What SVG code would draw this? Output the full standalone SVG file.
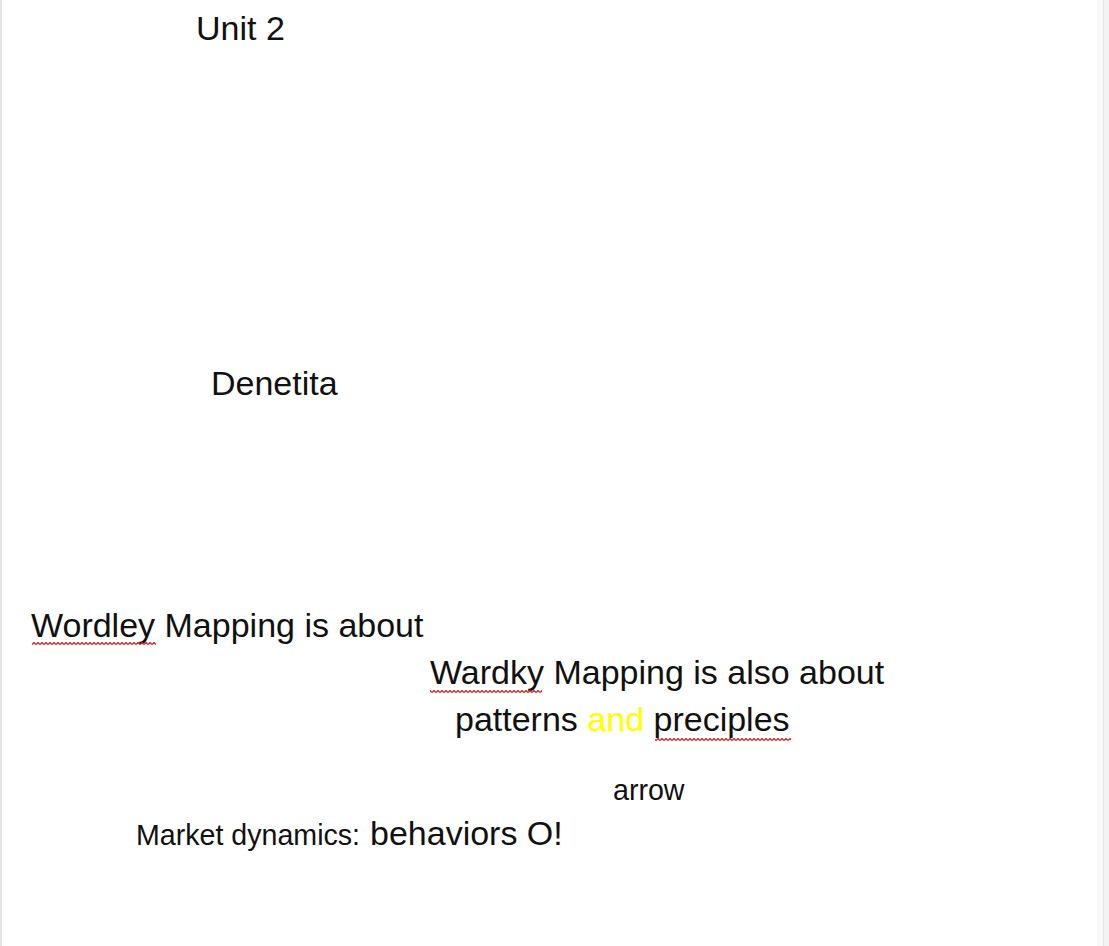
<svg xmlns="http://www.w3.org/2000/svg" width="1109" height="946" viewBox="0 0 1109 946">
<style>
.t{font-family:"Liberation Sans",Arial,sans-serif;fill:#111;}
.big{font-size:34px;}
.mid{font-size:28.6px;}
.sq{fill:url(#squiggle);}
</style>
<defs>
<pattern id="squiggle" x="0" y="0" width="4" height="3" patternUnits="userSpaceOnUse">
<path d="M0 2.5 L2 0.5 L4 2.5" fill="none" stroke="#dd1111" stroke-width="1.2"/>
</pattern>
</defs>
<rect x="0" y="0" width="1109" height="946" fill="#ffffff"/>
<rect x="0" y="0" width="2" height="946" fill="#e2e2e2"/>
<rect x="1097" y="0" width="6" height="946" fill="#f9f9f9"/>
<rect x="1103" y="0" width="1" height="946" fill="#e6e6e6"/>
<rect x="1104" y="0" width="5" height="946" fill="#f3f3f3"/>
<g id="unit2"><text class="t big" x="196" y="40">Unit 2</text></g>
<g id="denetita"><text class="t big" x="211" y="395">Denetita</text></g>
<g id="wordley"><text class="t big" x="31" y="637">Wordley Mapping is about</text>
<rect class="sq" x="32" y="642" width="124" height="3"/></g>
<g id="wardky"><text class="t big" x="430" y="684">Wardky Mapping is also about</text>
<rect class="sq" x="430" y="690" width="112" height="3"/></g>
<g id="patterns"><text class="t big" x="455" y="731">patterns <tspan fill="#ffff00">and</tspan> preciples</text>
<rect class="sq" x="655" y="738" width="136" height="3"/></g>
<g id="arrow"><text class="t mid" x="613" y="800">arrow</text></g>
<g id="market"><text class="t mid" x="136" y="845">Market dynamics:</text><text class="t big" x="370" y="845">behaviors O!</text></g>
<g id="connectors"></g>
</svg>
